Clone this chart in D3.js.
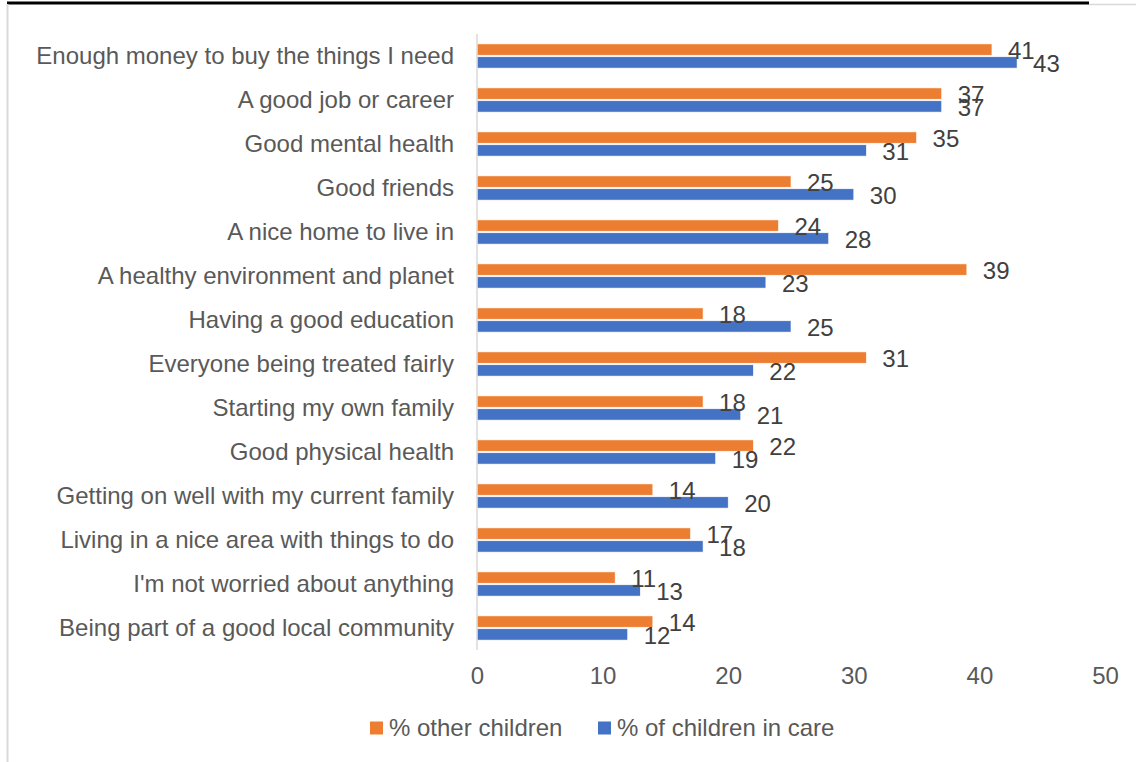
<!DOCTYPE html>
<html>
<head>
<meta charset="utf-8">
<script src="https://cdn.jsdelivr.net/npm/d3@7"></script>
<style>
  html, body { margin: 0; padding: 0; background: #fff; }
  svg { display: block; font-family: "Liberation Sans", Arial, sans-serif; }
</style>
</head>
<body>
<svg id="chart" width="1136" height="762"></svg>
<script>
// What matters most for the future: share of children choosing each item
const categories = [
  "Enough money to buy the things I need",
  "A good job or career",
  "Good mental health",
  "Good friends",
  "A nice home to live in",
  "A healthy environment and planet",
  "Having a good education",
  "Everyone being treated fairly",
  "Starting my own family",
  "Good physical health",
  "Getting on well with my current family",
  "Living in a nice area with things to do",
  "I'm not worried about anything",
  "Being part of a good local community"
];
const otherChildren = [41, 37, 35, 25, 24, 39, 18, 31, 18, 22, 14, 17, 11, 14];
const childrenInCare = [43, 37, 31, 30, 28, 23, 25, 22, 21, 19, 20, 18, 13, 12];
const seriesNames = ["% other children", "% of children in care"];
const seriesColors = ["#ED7D31", "#4472C4"];
const xTicks = [0, 10, 20, 30, 40, 50];

const FONT = 24;
const svg = d3.select("#chart");

// frame lines along the top and left edges
svg.append("line").attr("x1", 7).attr("x2", 1089).attr("y1", 3).attr("y2", 3)
  .attr("stroke", "#000").attr("stroke-width", 3);
svg.append("line").attr("x1", 1089).attr("x2", 1136).attr("y1", 4.5).attr("y2", 4.5)
  .attr("stroke", "#d9d9d9").attr("stroke-width", 1.5);
svg.append("line").attr("x1", 7.5).attr("x2", 7.5).attr("y1", 4).attr("y2", 762)
  .attr("stroke", "#d9d9d9").attr("stroke-width", 2);

const plot = { left: 477, right: 1105, top: 34, bottom: 650 };

const x = d3.scaleLinear().domain([0, 50]).range([plot.left, plot.right]);
const y = d3.scaleBand().domain(categories).range([plot.top, plot.bottom])
  .paddingInner(0.45).paddingOuter(0.225);
const ySub = d3.scaleBand().domain(seriesNames).range([0, y.bandwidth()]).paddingInner(0.12);

const rows = categories.map((c, i) => ({
  cat: c,
  vals: [otherChildren[i], childrenInCare[i]]
}));

// category labels
svg.append("g").selectAll("text").data(categories).join("text")
  .attr("x", 454)
  .attr("y", d => y(d) + y.bandwidth() / 2)
  .attr("dy", "0.35em")
  .attr("text-anchor", "end")
  .attr("font-size", FONT)
  .attr("fill", "#595959")
  .text(d => d);

// x axis tick labels
const xAxis = d3.axisBottom(x).tickValues(xTicks).tickSize(0).tickPadding(0);
const gx = svg.append("g").attr("transform", `translate(0,${plot.bottom + 17})`).call(xAxis);
gx.select(".domain").remove();
gx.selectAll("text").attr("font-size", FONT).attr("fill", "#595959")
  .attr("font-family", "'Liberation Sans', Arial, sans-serif");

// bars
const groups = svg.append("g").selectAll("g").data(rows).join("g")
  .attr("transform", d => `translate(0,${y(d.cat)})`);

groups.selectAll("rect").data(d => d.vals.map((v, k) => ({ v, k }))).join("rect")
  .attr("x", x(0))
  .attr("y", d => ySub(seriesNames[d.k]))
  .attr("width", d => x(d.v) - x(0))
  .attr("height", ySub.bandwidth())
  .attr("fill", d => seriesColors[d.k])
  .attr("stroke", "#fff")
  .attr("stroke-width", 0.6);

// value labels
groups.selectAll("text").data(d => d.vals.map((v, k) => ({ v, k }))).join("text")
  .attr("x", d => x(d.v) + 16)
  .attr("y", d => ySub(seriesNames[d.k]) + ySub.bandwidth() / 2 + 1)
  .attr("dy", "0.35em")
  .attr("font-size", FONT)
  .attr("fill", "#404040")
  .text(d => d.v);

// vertical axis line
svg.append("line")
  .attr("x1", x(0)).attr("x2", x(0))
  .attr("y1", plot.top).attr("y2", plot.bottom)
  .attr("stroke", "#d9d9d9").attr("stroke-width", 1.5);

// legend
const legendPos = [370, 598];
const legend = svg.append("g").selectAll("g").data(seriesNames).join("g")
  .attr("transform", (d, i) => `translate(${legendPos[i]},728)`);
legend.append("rect").attr("x", 0).attr("y", -6.5).attr("width", 13).attr("height", 13)
  .attr("fill", (d, i) => seriesColors[i]);
legend.append("text").attr("x", 19).attr("dy", "0.35em")
  .attr("font-size", FONT).attr("fill", "#595959").text(d => d);
</script>
</body>
</html>
